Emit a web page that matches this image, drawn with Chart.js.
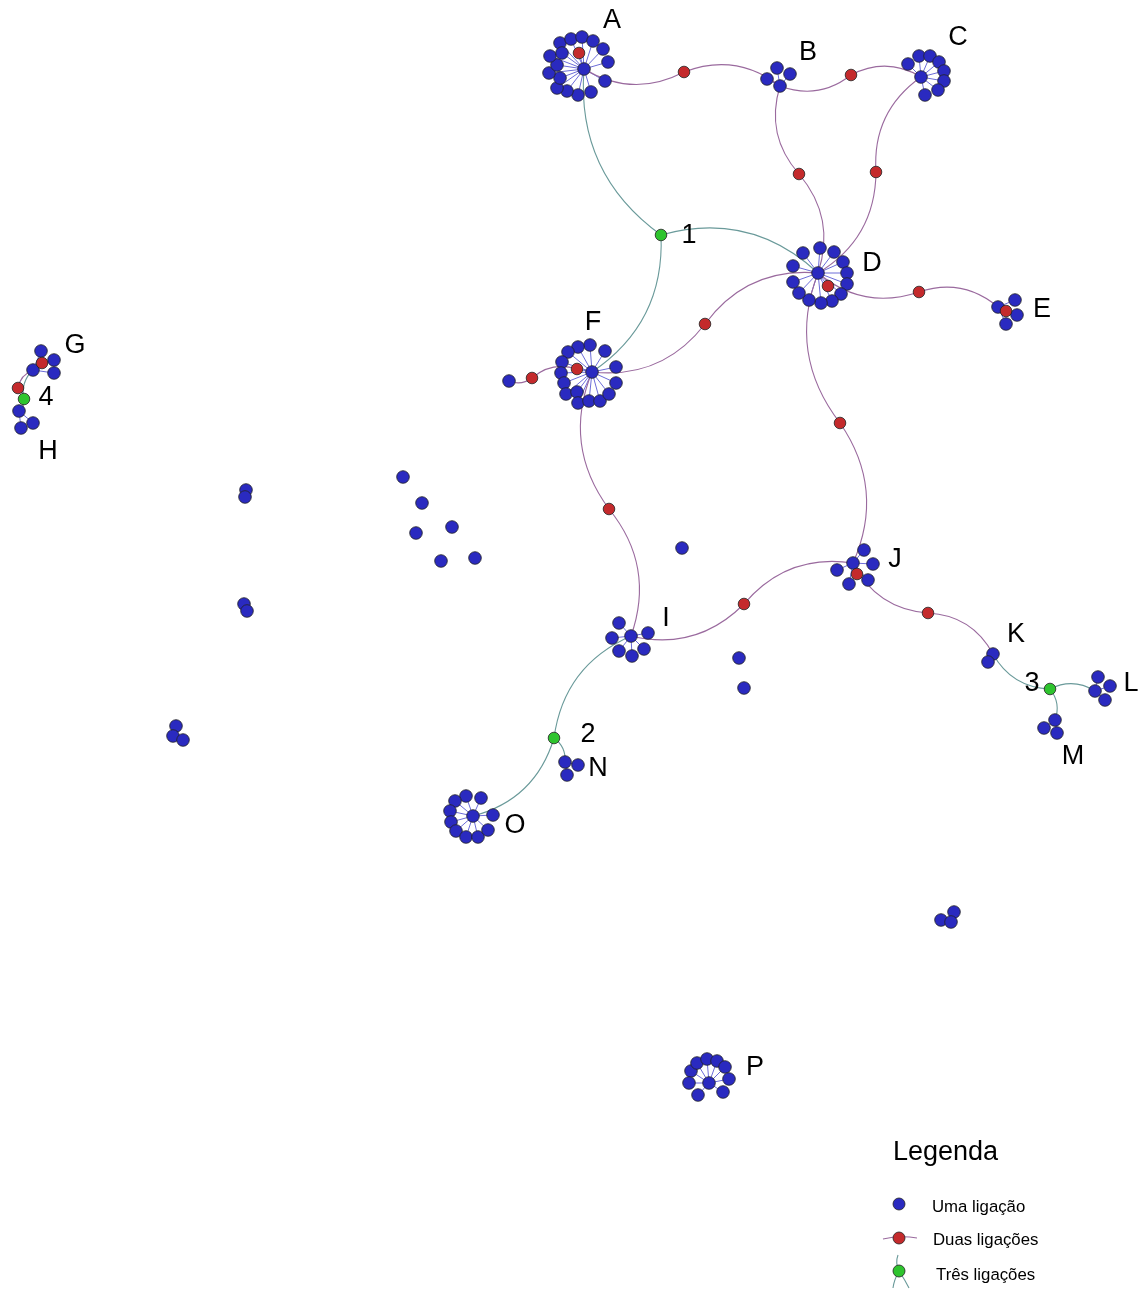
<!DOCTYPE html>
<html>
<head>
<meta charset="utf-8">
<script src="https://cdn.jsdelivr.net/npm/chart.js@4"></script>
<style>
html,body{margin:0;padding:0;background:#fff;}
#wrap{width:1147px;height:1289px;}
</style>
</head>
<body>
<div id="wrap"><canvas id="c" width="1147" height="1289"></canvas></div>
<script>
// ---------- DATA (layout coordinates of the network) ----------
const hubNames = ['A','B','C','D','E','F','I','J','K','L','M','N','O','P','G','H'];
const hubX     = [584,780,921,818,998,592,631,853,993,1095,1055,565,473,709,33,19];
const hubY     = [69, 86, 77, 273,307,372,636,563,654,691, 720, 762,816,1083,370,411];

const leavesA = [[560,43],[571,39],[582,37],[593,41],[603,49],[608,62],[605,81],[591,92],[578,95],[567,91],[557,88],[560,78],[549,73],[557,65],[550,56],[562,53]];
const leavesB = [[777,68],[790,74],[767,79]];
const leavesC = [[908,64],[919,56],[930,56],[939,62],[944,71],[944,81],[938,90],[925,95]];
const leavesD = [[803,253],[820,248],[834,252],[843,262],[847,273],[847,284],[841,294],[832,301],[821,303],[809,300],[799,293],[793,282],[793,266]];
const leavesE = [[1015,300],[1017,315],[1006,324]];
const leavesF = [[590,345],[578,347],[568,352],[562,362],[561,373],[564,383],[566,394],[577,392],[578,403],[589,401],[600,401],[609,394],[616,383],[616,367],[605,351]];
const leavesI = [[619,623],[648,633],[644,649],[632,656],[619,651],[612,638]];
const leavesJ = [[864,550],[873,564],[868,580],[849,584],[837,570]];
const leavesK = [[988,662]];
const leavesL = [[1098,677],[1110,686],[1105,700]];
const leavesM = [[1044,728],[1057,733]];
const leavesN = [[578,765],[567,775]];
const leavesO = [[493,815],[481,798],[466,796],[455,801],[450,811],[451,822],[456,831],[466,837],[478,837],[488,830]];
const leavesP = [[691,1071],[697,1063],[707,1059],[717,1061],[725,1067],[729,1079],[723,1092],[698,1095],[689,1083]];
const leavesG = [[41,351],[54,360],[54,373]];
const leavesH = [[21,428],[33,423]];

// red nodes inside clusters (attached to a hub)
const clusterRedHub = ['A','D','E','F','J','G'];
const clusterRedPos = [[579,53],[828,286],[1006,311],[577,369],[857,574],[42,363]];

// connector nodes with two links (red)
const redNames = ['r1','r2','r3','r4','r5','r6','r7','r8','r9','r10','r11','r12'];
const redPos   = [[684,72],[851,75],[799,174],[876,172],[705,324],[919,292],[840,423],[609,509],[744,604],[928,613],[532,378],[18,388]];

// connector nodes with three links (green)
const greenNames = ['1','2','3','4'];
const greenPos   = [[661,235],[554,738],[1050,689],[24,399]];

// other single nodes
const loneNames = ['f0'];
const lonePos   = [[509,381]];
const isolated  = [[682,548],[739,658],[744,688],[246,490],[245,497],[244,604],[247,611],[176,726],[173,736],[183,740],
                   [403,477],[422,503],[416,533],[452,527],[441,561],[475,558],[954,912],[941,920],[951,922]];

// links: [from, to, kind]  kind p = two-link chain, t = three-link chain
const links = [
 ['A','r1','p'],['B','r1','p'],['B','r2','p'],['C','r2','p'],['B','r3','p'],['D','r3','p'],
 ['C','r4','p'],['D','r4','p'],['D','r5','p'],['F','r5','p'],['D','r6','p'],['E','r6','p'],
 ['D','r7','p'],['J','r7','p'],['F','r8','p'],['I','r8','p'],['I','r9','p'],['J','r9','p'],
 ['J','r10','p'],['K','r10','p'],['cF','r11','p'],['f0','r11','p'],['G','r12','p'],['4','r12','p'],
 ['A','1','t'],['D','1','t'],['F','1','t'],['I','2','t'],['O','2','t'],['N','2','t'],
 ['K','3','t'],['L','3','t'],['M','3','t'],['G','4','t'],['H','4','t']
];

// node labels
const labelText = ['A','B','C','D','E','F','1','G','4','H','I','J','K','3','L','M','2','N','O','P'];
const labelPos  = [[612,21],[808,53],[958,38],[872,264],[1042,310],[593,323],[689,236],[75,346],[46,398],[48,452],
                   [666,619],[895,560],[1016,635],[1032,684],[1131,684],[1073,757],[588,735],[598,769],[515,826],[755,1068]];

const legendTitle = 'Legenda';
const legendItems = ['Uma ligação','Duas ligações','Três ligações'];

// ---------- build ----------
const leafSets = {A:leavesA,B:leavesB,C:leavesC,D:leavesD,E:leavesE,F:leavesF,I:leavesI,J:leavesJ,K:leavesK,
                  L:leavesL,M:leavesM,N:leavesN,O:leavesO,P:leavesP,G:leavesG,H:leavesH};
const pos = {};
hubNames.forEach((n,i)=>pos[n]=[hubX[i],hubY[i]]);
redNames.forEach((n,i)=>pos[n]=redPos[i]);
greenNames.forEach((n,i)=>pos[n]=greenPos[i]);
loneNames.forEach((n,i)=>pos[n]=lonePos[i]);
clusterRedHub.forEach((h,i)=>pos['c'+h]=clusterRedPos[i]);

const spokes = [];
hubNames.forEach(h=>{ leafSets[h].forEach(p=>spokes.push([pos[h],p])); });
clusterRedHub.forEach((h,i)=>spokes.push([pos[h],clusterRedPos[i]]));

const blueData = [];
hubNames.forEach(h=>{ blueData.push({x:pos[h][0],y:pos[h][1]}); leafSets[h].forEach(p=>blueData.push({x:p[0],y:p[1]})); });
lonePos.concat(isolated).forEach(p=>blueData.push({x:p[0],y:p[1]}));
const redData = redPos.concat(clusterRedPos).map(p=>({x:p[0],y:p[1]}));
const greenData = greenPos.map(p=>({x:p[0],y:p[1]}));

const BLUE='#2a2ac0', RED='#c42a2c', GREEN='#2ec42e', PURPLE='#9a6a9e', TEAL='#6a9a9a', SPOKE='#6c6cd8', EDGE_K=0.28;
const FONT='"Liberation Sans", Arial, sans-serif';

function curve(ctx,x0,y0,x1,y1,k){
  const dx=x1-x0, dy=y1-y0;
  const cx=(x0+x1)/2 - dy*k, cy=(y0+y1)/2 + dx*k;
  ctx.moveTo(x0,y0); ctx.quadraticCurveTo(cx,cy,x1,y1);
}

const edgePlugin = {
  id:'edges',
  beforeDatasetsDraw(chart){
    const ctx=chart.ctx, xs=chart.scales.x, ys=chart.scales.y;
    const px=p=>[xs.getPixelForValue(p[0]), ys.getPixelForValue(p[1])];
    ctx.save();
    ctx.lineWidth=1;
    ctx.strokeStyle=SPOKE;
    ctx.beginPath();
    spokes.forEach(s=>{const a=px(s[0]), b=px(s[1]); ctx.moveTo(a[0],a[1]); ctx.lineTo(b[0],b[1]);});
    ctx.stroke();
    links.forEach(l=>{
      const a=px(pos[l[0]]), b=px(pos[l[1]]);
      ctx.strokeStyle = l[2]==='p'?PURPLE:TEAL;
      ctx.lineWidth = 1.1;
      ctx.beginPath(); curve(ctx,a[0],a[1],b[0],b[1],EDGE_K); ctx.stroke();
    });
    ctx.restore();
  },
  afterDatasetsDraw(chart){
    const ctx=chart.ctx, xs=chart.scales.x, ys=chart.scales.y;
    ctx.save();
    ctx.fillStyle='#000';
    ctx.textAlign='center'; ctx.textBaseline='middle';
    ctx.font='27px '+FONT;
    labelText.forEach((t,i)=>ctx.fillText(t, xs.getPixelForValue(labelPos[i][0]), ys.getPixelForValue(labelPos[i][1])));
    // legend
    ctx.textAlign='left';
    ctx.font='27px '+FONT;
    ctx.fillText(legendTitle, 893, 1153);
    ctx.font='16.8px '+FONT;
    ctx.fillText(legendItems[0], 932, 1207);
    ctx.fillText(legendItems[1], 933, 1240);
    ctx.fillText(legendItems[2], 936, 1275);
    ctx.lineWidth=1.1;
    ctx.strokeStyle=PURPLE;
    ctx.beginPath(); ctx.moveTo(883,1239); ctx.quadraticCurveTo(900,1235,917,1238); ctx.stroke();
    ctx.strokeStyle=TEAL;
    ctx.beginPath(); ctx.moveTo(899,1271); ctx.quadraticCurveTo(895,1263,898,1255); ctx.stroke();
    ctx.beginPath(); ctx.moveTo(899,1271); ctx.quadraticCurveTo(894,1280,893,1288); ctx.stroke();
    ctx.beginPath(); ctx.moveTo(899,1271); ctx.quadraticCurveTo(905,1280,909,1288); ctx.stroke();
    const dot=(x,y,c)=>{ctx.beginPath();ctx.arc(x,y,6,0,Math.PI*2);ctx.fillStyle=c;ctx.fill();ctx.lineWidth=0.8;ctx.strokeStyle='#222';ctx.stroke();};
    dot(899,1204,BLUE); dot(899,1238,RED); dot(899,1271,GREEN);
    ctx.restore();
  }
};

new Chart(document.getElementById('c'), {
  type:'scatter',
  data:{datasets:[
    {label:'Três ligações', data:greenData, pointRadius:5.8, backgroundColor:GREEN, borderColor:'#222', borderWidth:0.8, clip:false},
    {label:'Duas ligações', data:redData, pointRadius:5.8, backgroundColor:RED, borderColor:'#222', borderWidth:0.8, clip:false},
    {label:'Uma ligação', data:blueData, pointRadius:6.3, backgroundColor:BLUE, borderColor:'#222', borderWidth:0.8, clip:false}
  ]},
  options:{
    responsive:false, animation:false, devicePixelRatio:1,
    layout:{padding:0, autoPadding:false},
    scales:{
      x:{type:'linear', min:0, max:1147, display:false},
      y:{type:'linear', min:0, max:1289, reverse:true, display:false}
    },
    plugins:{legend:{display:false}, tooltip:{enabled:false}}
  },
  plugins:[edgePlugin]
});
</script>
</body>
</html>
